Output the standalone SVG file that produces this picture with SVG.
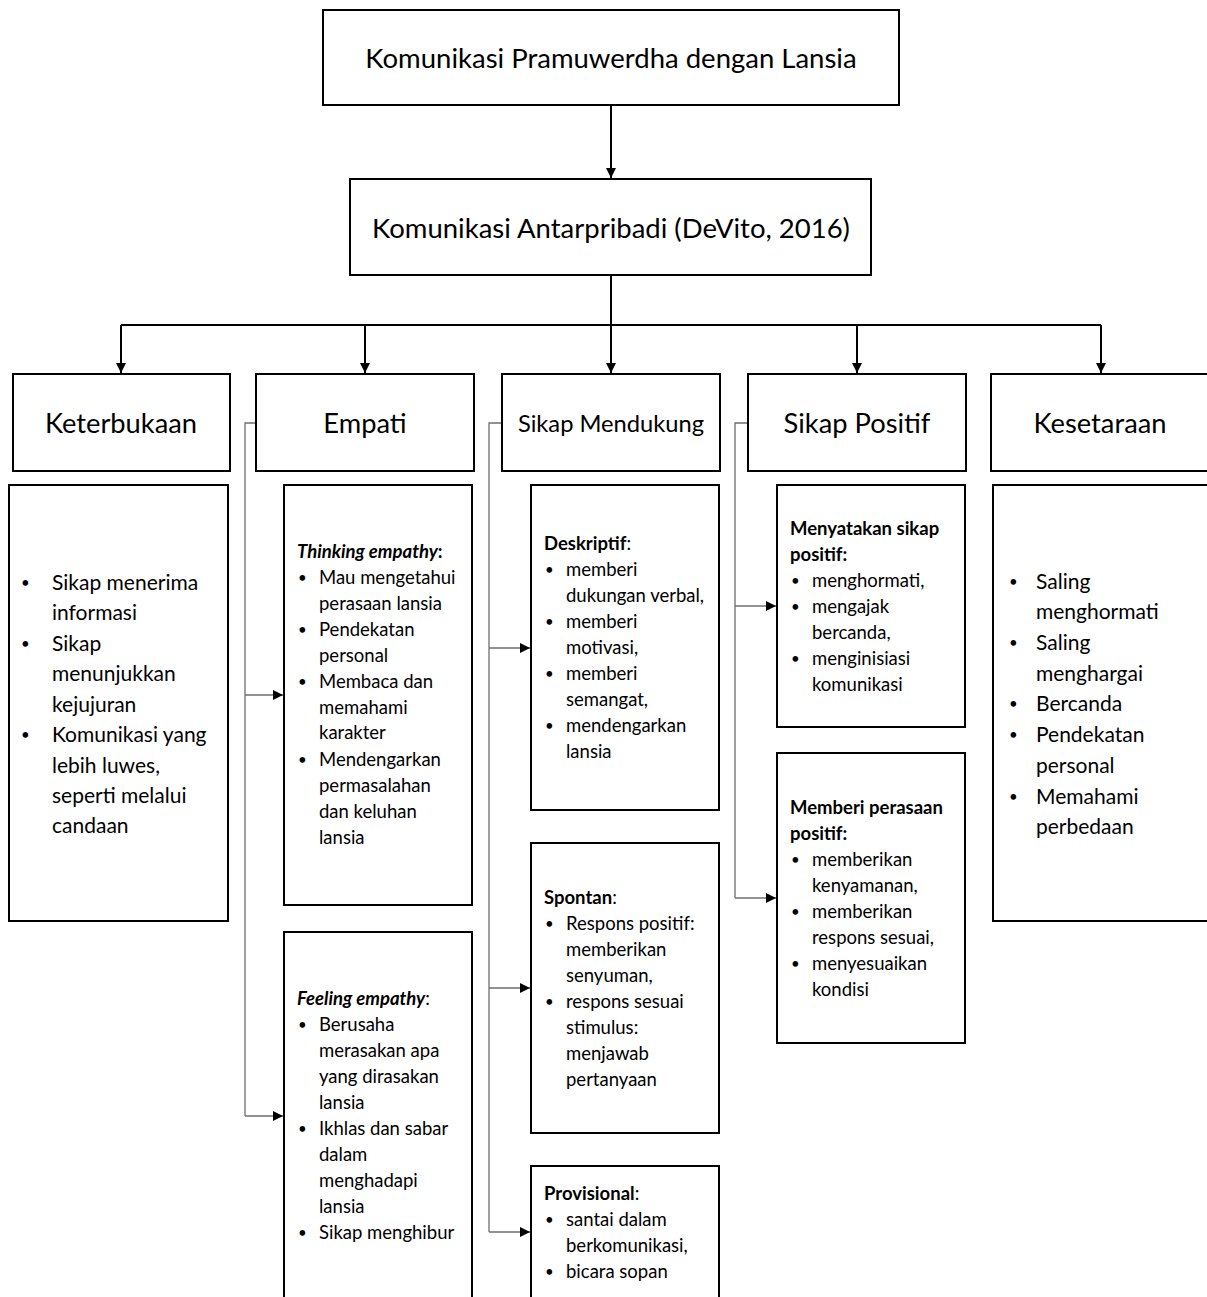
<svg xmlns="http://www.w3.org/2000/svg" width="1207" height="1297" viewBox="0 0 1207 1297">
<defs>
<style>
text{font-family:Lato,"Liberation Sans",sans-serif;fill:#000}
.box{fill:#fff;stroke:#000;stroke-width:2}
.title{font-size:27.5px;text-anchor:middle}
.h{font-size:27.3px;text-anchor:middle}
.hs{font-size:23.7px;text-anchor:middle}
.m{font-size:21px}
.s{font-size:18.5px}
.bu{font-size:15px}
.b{font-weight:bold}
.bi{font-weight:bold;font-style:italic}
.main{stroke:#000;stroke-width:2;fill:none}
.side{stroke:#6e6e6e;stroke-width:1.3;fill:none}
</style>
<marker id="ah" viewBox="0 0 10 10" refX="10" refY="5" markerWidth="10" markerHeight="10" markerUnits="userSpaceOnUse" orient="auto">
<path d="M0,0 L10,5 L0,10 z" fill="#000"/>
</marker>
</defs>
<rect width="1207" height="1297" fill="#fff"/>

<g id="connectors">
<path class="main" d="M611,105 V178" marker-end="url(#ah)"/>
<path class="main" d="M611,275 V325"/>
<path class="main" d="M121,325 H1101"/>
<path class="main" d="M121,325 V373" marker-end="url(#ah)"/>
<path class="main" d="M365,325 V373" marker-end="url(#ah)"/>
<path class="main" d="M611,325 V373" marker-end="url(#ah)"/>
<path class="main" d="M857,325 V373" marker-end="url(#ah)"/>
<path class="main" d="M1101,325 V373" marker-end="url(#ah)"/>
<path class="side" d="M256,423 H245 V1116"/>
<path class="side" d="M245,695 H283" marker-end="url(#ah)"/>
<path class="side" d="M245,1116 H283" marker-end="url(#ah)"/>
<path class="side" d="M502,423 H489 V1232"/>
<path class="side" d="M489,648 H530" marker-end="url(#ah)"/>
<path class="side" d="M489,988 H530" marker-end="url(#ah)"/>
<path class="side" d="M489,1232 H530" marker-end="url(#ah)"/>
<path class="side" d="M748,423 H735 V898"/>
<path class="side" d="M735,606 H776" marker-end="url(#ah)"/>
<path class="side" d="M735,898 H776" marker-end="url(#ah)"/>
</g>

<g id="n-top">
<rect class="box" x="323" y="10" width="576" height="95"/>
<text class="title" x="611" y="68">Komunikasi Pramuwerdha dengan Lansia</text>
</g>
<g id="n-kap">
<rect class="box" x="350" y="179" width="521" height="96"/>
<text class="title" x="611" y="238">Komunikasi Antarpribadi (DeVito, 2016)</text>
</g>

<g id="n-keterbukaan">
<rect class="box" x="13" y="374" width="217" height="97"/>
<text class="h" x="121" y="433">Keterbukaan</text>
</g>
<g id="n-empati">
<rect class="box" x="256" y="374" width="218" height="97"/>
<text class="h" x="365" y="433">Empati</text>
</g>
<g id="n-mendukung">
<rect class="box" x="502" y="374" width="218" height="97"/>
<text class="hs" x="611" y="432">Sikap Mendukung</text>
</g>
<g id="n-positif">
<rect class="box" x="748" y="374" width="218" height="97"/>
<text class="h" x="857" y="433">Sikap Positif</text>
</g>
<g id="n-kesetaraan">
<rect class="box" x="991" y="374" width="220" height="97"/>
<text class="h" x="1100" y="433">Kesetaraan</text>
</g>

<g id="n-keterbukaan-isi">
<rect class="box" x="9" y="485" width="219" height="436"/>
<g class="m">
<text class="bu" x="21" y="588">•</text><text x="52" y="590">Sikap menerima</text>
<text x="52" y="620">informasi</text>
<text class="bu" x="21" y="649">•</text><text x="52" y="651">Sikap</text>
<text x="52" y="681">menunjukkan</text>
<text x="52" y="712">kejujuran</text>
<text class="bu" x="21" y="740">•</text><text x="52" y="742">Komunikasi yang</text>
<text x="52" y="773">lebih luwes,</text>
<text x="52" y="803">seperti melalui</text>
<text x="52" y="833">candaan</text>
</g>
</g>

<g id="n-thinking">
<rect class="box" x="284" y="485" width="188" height="420"/>
<g class="s">
<text x="297" y="558"><tspan class="bi">Thinking empathy</tspan><tspan class="b">:</tspan></text>
<text class="bu" x="298" y="583">•</text><text x="319" y="584">Mau mengetahui</text>
<text x="319" y="610">perasaan lansia</text>
<text class="bu" x="298" y="635">•</text><text x="319" y="636">Pendekatan</text>
<text x="319" y="662">personal</text>
<text class="bu" x="298" y="687">•</text><text x="319" y="688">Membaca dan</text>
<text x="319" y="714">memahami</text>
<text x="319" y="739">karakter</text>
<text class="bu" x="298" y="765">•</text><text x="319" y="766">Mendengarkan</text>
<text x="319" y="792">permasalahan</text>
<text x="319" y="818">dan keluhan</text>
<text x="319" y="844">lansia</text>
</g>
</g>

<g id="n-feeling">
<rect class="box" x="284" y="932" width="188" height="380"/>
<g class="s">
<text x="297" y="1005"><tspan class="bi">Feeling empathy</tspan>:</text>
<text class="bu" x="298" y="1030">•</text><text x="319" y="1031">Berusaha</text>
<text x="319" y="1057">merasakan apa</text>
<text x="319" y="1083">yang dirasakan</text>
<text x="319" y="1109">lansia</text>
<text class="bu" x="298" y="1134">•</text><text x="319" y="1135">Ikhlas dan sabar</text>
<text x="319" y="1161">dalam</text>
<text x="319" y="1187">menghadapi</text>
<text x="319" y="1213">lansia</text>
<text class="bu" x="298" y="1238">•</text><text x="319" y="1239">Sikap menghibur</text>
</g>
</g>

<g id="n-deskriptif">
<rect class="box" x="531" y="485" width="188" height="325"/>
<g class="s">
<text x="544" y="550"><tspan class="b">Deskriptif</tspan>:</text>
<text class="bu" x="545" y="575">•</text><text x="566" y="576">memberi</text>
<text x="566" y="602">dukungan verbal,</text>
<text class="bu" x="545" y="627">•</text><text x="566" y="628">memberi</text>
<text x="566" y="654">motivasi,</text>
<text class="bu" x="545" y="679">•</text><text x="566" y="680">memberi</text>
<text x="566" y="706">semangat,</text>
<text class="bu" x="545" y="731">•</text><text x="566" y="732">mendengarkan</text>
<text x="566" y="758">lansia</text>
</g>
</g>

<g id="n-spontan">
<rect class="box" x="531" y="843" width="188" height="290"/>
<g class="s">
<text x="544" y="904"><tspan class="b">Spontan</tspan>:</text>
<text class="bu" x="545" y="929">•</text><text x="566" y="930">Respons positif:</text>
<text x="566" y="956">memberikan</text>
<text x="566" y="982">senyuman,</text>
<text class="bu" x="545" y="1007">•</text><text x="566" y="1008">respons sesuai</text>
<text x="566" y="1034">stimulus:</text>
<text x="566" y="1060">menjawab</text>
<text x="566" y="1086">pertanyaan</text>
</g>
</g>

<g id="n-provisional">
<rect class="box" x="531" y="1166" width="188" height="150"/>
<g class="s">
<text x="544" y="1200"><tspan class="b">Provisional</tspan>:</text>
<text class="bu" x="545" y="1225">•</text><text x="566" y="1226">santai dalam</text>
<text x="566" y="1252">berkomunikasi,</text>
<text class="bu" x="545" y="1277">•</text><text x="566" y="1278">bicara sopan</text>
</g>
</g>

<g id="n-menyatakan">
<rect class="box" x="777" y="485" width="188" height="242"/>
<g class="s">
<text class="b" x="790" y="535">Menyatakan sikap</text>
<text class="b" x="790" y="561">positif:</text>
<text class="bu" x="791" y="586">•</text><text x="812" y="587">menghormati,</text>
<text class="bu" x="791" y="612">•</text><text x="812" y="613">mengajak</text>
<text x="812" y="639">bercanda,</text>
<text class="bu" x="791" y="664">•</text><text x="812" y="665">menginisiasi</text>
<text x="812" y="691">komunikasi</text>
</g>
</g>

<g id="n-memberi">
<rect class="box" x="777" y="753" width="188" height="290"/>
<g class="s">
<text class="b" x="790" y="814">Memberi perasaan</text>
<text class="b" x="790" y="840">positif:</text>
<text class="bu" x="791" y="865">•</text><text x="812" y="866">memberikan</text>
<text x="812" y="892">kenyamanan,</text>
<text class="bu" x="791" y="917">•</text><text x="812" y="918">memberikan</text>
<text x="812" y="944">respons sesuai,</text>
<text class="bu" x="791" y="969">•</text><text x="812" y="970">menyesuaikan</text>
<text x="812" y="996">kondisi</text>
</g>
</g>

<g id="n-kesetaraan-isi">
<rect class="box" x="993" y="485" width="220" height="436"/>
<g class="m">
<text class="bu" x="1009" y="587">•</text><text x="1036" y="589">Saling</text>
<text x="1036" y="619">menghormati</text>
<text class="bu" x="1009" y="648">•</text><text x="1036" y="650">Saling</text>
<text x="1036" y="681">menghargai</text>
<text class="bu" x="1009" y="709">•</text><text x="1036" y="711">Bercanda</text>
<text class="bu" x="1009" y="740">•</text><text x="1036" y="742">Pendekatan</text>
<text x="1036" y="773">personal</text>
<text class="bu" x="1009" y="802">•</text><text x="1036" y="804">Memahami</text>
<text x="1036" y="834">perbedaan</text>
</g>
</g>
</svg>
